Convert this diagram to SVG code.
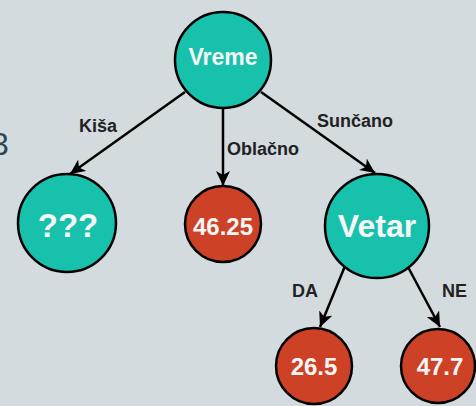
<svg xmlns="http://www.w3.org/2000/svg" width="476" height="406" viewBox="0 0 476 406">
<defs>
<marker id="arr" markerUnits="userSpaceOnUse" markerWidth="16" markerHeight="14" refX="15" refY="7" orient="auto">
<path d="M0,0 L15,7 L0,14 L4,7 z" fill="#000"/>
</marker>
<style>
.bg{fill:#d4dbdf}
.teal{fill:#17c1ab;stroke:#000;stroke-width:2.5}
.red{fill:#cd4227;stroke:#000;stroke-width:2.5}
.nt{font-family:"Liberation Sans",Arial,sans-serif;font-weight:bold;fill:#f5f5f5;text-anchor:middle}
.el{font-family:"Liberation Sans",Arial,sans-serif;font-weight:bold;font-size:18px;fill:#222}
.edge{stroke:#000;stroke-width:2.5;fill:none;marker-end:url(#arr)}
</style>
</defs>
<rect class="bg" x="0" y="0" width="476" height="406"/>
<text x="-9" y="155" font-family="Liberation Sans, Arial, sans-serif" font-size="32" fill="#2b4753">3</text>
<g id="connectors">
<line class="edge" x1="185" y1="92" x2="70" y2="174"/>
<line class="edge" x1="223" y1="108" x2="223" y2="186"/>
<line class="edge" x1="261" y1="92" x2="375" y2="173"/>
<line class="edge" x1="345" y1="266" x2="320" y2="327"/>
<line class="edge" x1="408" y1="267" x2="440" y2="327"/>
<text class="el" x="79" y="132">Kiša</text>
<text class="el" x="227" y="155">Oblačno</text>
<text class="el" x="317" y="127">Sunčano</text>
<text class="el" x="292" y="297">DA</text>
<text class="el" x="442" y="297">NE</text>
</g>
<g id="vreme"><circle class="teal" cx="223" cy="60" r="48"/><text class="nt" x="223" y="65" font-size="23">Vreme</text></g>
<g id="kisa"><circle class="teal" cx="67" cy="223" r="49"/><text class="nt" x="68" y="237" font-size="33">???</text></g>
<g id="oblacno"><circle class="red" cx="223" cy="224" r="38"/><text class="nt" x="223" y="235" font-size="24">46.25</text></g>
<g id="vetar"><circle class="teal" cx="377" cy="226" r="52"/><text class="nt" x="377" y="237" font-size="32">Vetar</text></g>
<g id="da"><circle class="red" cx="314" cy="366" r="38"/><text class="nt" x="314" y="375" font-size="24">26.5</text></g>
<g id="ne"><circle class="red" cx="438" cy="366" r="37"/><text class="nt" x="440" y="375" font-size="24">47.7</text></g>
</svg>
